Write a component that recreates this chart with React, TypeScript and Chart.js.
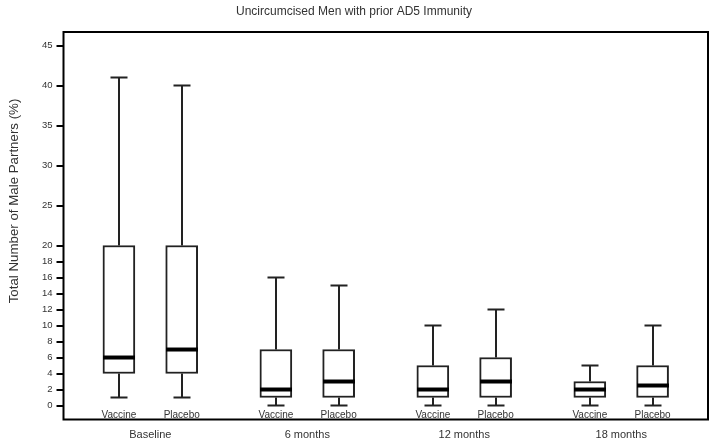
import React, { useEffect, useRef } from 'react';
import { Chart, registerables } from 'chart.js';

Chart.register(...registerables);

const titleText = 'Uncircumcised Men with prior AD5 Immunity';
const yTitle = 'Total Number of Male Partners (%)';
const groups = ['Baseline', '6 months', '12 months', '18 months'];
const arms = ['Vaccine', 'Placebo'];

const vaccineMin = [1, 0, 0, 0];
const vaccineQ1 = [4, 1, 1, 1];
const vaccineMedian = [6, 2, 2, 2];
const vaccineQ3 = [20, 7, 5, 3];
const vaccineMax = [41, 16, 10, 5];

const placeboMin = [1, 0, 0, 0];
const placeboQ1 = [4, 1, 1, 1];
const placeboMedian = [7, 3, 3, 2.5];
const placeboQ3 = [20, 7, 6, 5];
const placeboMax = [40, 15, 12, 10];

const yTicks = [0, 2, 4, 6, 8, 10, 12, 14, 16, 18, 20, 25, 30, 35, 40, 45];

const FONT = 'Arial, "Liberation Sans", sans-serif';
const TEXT = '#333';
const LINE = '#222';
const ARM_OFFSET = [-0.2, 0.2];
const BOX_W = 32;
const CAP_W = 17;

const stats = [
  { min: vaccineMin, q1: vaccineQ1, med: vaccineMedian, q3: vaccineQ3, max: vaccineMax },
  { min: placeboMin, q1: placeboQ1, med: placeboMedian, q3: placeboQ3, max: placeboMax },
];

const boxPlugin = {
  id: 'boxExtras',
  afterDatasetsDraw(chart: any) {
    const { ctx, scales } = chart;
    const xs = scales.x;
    const ys = scales.y;
    ctx.save();
    stats.forEach((s, d) => {
      s.q1.forEach((_, i) => {
        const x = Math.round(xs.getPixelForValue(i + ARM_OFFSET[d]));
        const py = (v: number) => ys.getPixelForValue(v);
        ctx.strokeStyle = LINE;
        ctx.lineWidth = 2;
        ctx.beginPath();
        ctx.moveTo(x, py(s.q3[i]));
        ctx.lineTo(x, py(s.max[i]));
        ctx.moveTo(x - CAP_W / 2, py(s.max[i]));
        ctx.lineTo(x + CAP_W / 2, py(s.max[i]));
        ctx.moveTo(x, py(s.q1[i]));
        ctx.lineTo(x, py(s.min[i]));
        ctx.moveTo(x - CAP_W / 2, py(s.min[i]));
        ctx.lineTo(x + CAP_W / 2, py(s.min[i]));
        ctx.stroke();
        ctx.strokeStyle = '#000';
        ctx.lineWidth = 4;
        ctx.beginPath();
        ctx.moveTo(x - BOX_W / 2, py(s.med[i]));
        ctx.lineTo(x + BOX_W / 2, py(s.med[i]));
        ctx.stroke();
      });
    });
    ctx.restore();
  },
  afterDraw(chart: any) {
    const { ctx, scales, chartArea } = chart;
    const xs = scales.x;
    const ys = scales.y;
    ctx.save();
    ctx.strokeStyle = '#000';
    ctx.lineWidth = 2;
    ctx.strokeRect(chartArea.left, chartArea.top, chartArea.right - chartArea.left, chartArea.bottom - chartArea.top);
    ctx.fillStyle = TEXT;
    ctx.font = `10px ${FONT}`;
    ctx.textAlign = 'center';
    ctx.textBaseline = 'alphabetic';
    const yLab = ys.getPixelForValue(0) + 12.5;
    groups.forEach((_, i) => {
      arms.forEach((a, d) => {
        ctx.fillText(a, xs.getPixelForValue(i + ARM_OFFSET[d]), yLab);
      });
    });
    // y-axis title
    ctx.translate(14, 201);
    ctx.rotate(-Math.PI / 2);
    ctx.font = `13.3px ${FONT}`;
    ctx.textBaseline = 'middle';
    ctx.fillText(yTitle, 0, 0);
    ctx.restore();
  },
};

export default function App() {
  const ref = useRef<HTMLCanvasElement>(null);
  useEffect(() => {
    if (!ref.current) return;
    const datasets = stats.map((s, d) => ({
      label: arms[d],
      data: s.q1.map((q, i) => ({ x: i + ARM_OFFSET[d], y: [q, s.q3[i]] })),
      backgroundColor: '#fff',
      borderColor: LINE,
      borderWidth: 2,
      borderSkipped: false,
      barThickness: BOX_W,
      grouped: false,
    }));
    const chart = new Chart(ref.current, {
      type: 'bar',
      data: { datasets: datasets as any },
      plugins: [boxPlugin],
      options: {
        animation: false,
        responsive: true,
        maintainAspectRatio: false,
        layout: { padding: { left: 0, right: 4, top: 0, bottom: 0 } },
        plugins: {
          legend: { display: false },
          tooltip: { enabled: false },
          title: {
            display: true,
            text: titleText,
            color: TEXT,
            font: { family: FONT, size: 12, weight: 'normal' },
            padding: { top: 4, bottom: 13.6 },
          },
        },
        scales: {
          x: {
            type: 'linear',
            offset: false,
            min: -0.553,
            max: 3.553,
            afterBuildTicks: (scale: any) => {
              scale.ticks = groups.map((_, i) => ({ value: i }));
            },
            afterFit: (scale: any) => {
              scale.height = 25.5;
            },
            ticks: {
              autoSkip: false,
              color: TEXT,
              padding: 9,
              font: { family: FONT, size: 11 },
              callback: (v: any) => groups[Number(v)] ?? '',
            },
            grid: { display: false, drawTicks: false, offset: false },
            border: { display: false },
          },
          y: {
            type: 'linear',
            min: -1.75,
            max: 46.7,
            afterBuildTicks: (scale: any) => {
              scale.ticks = yTicks.map((v) => ({ value: v }));
            },
            afterFit: (scale: any) => {
              scale.width = 63.5;
            },
            ticks: {
              autoSkip: false,
              color: TEXT,
              padding: 4,
              font: { family: FONT, size: 9.5 },
              callback: (v: any) => String(v),
            },
            grid: { drawOnChartArea: false, drawTicks: true, tickLength: 7, color: '#000', lineWidth: 2 },
            border: { display: false },
          },
        },
      } as any,
    });
    return () => chart.destroy();
  }, []);
  return (
    <div style={{ position: 'fixed', left: 0, top: 0, width: 712, height: 445, background: '#fff' }}>
      <canvas ref={ref} />
    </div>
  );
}
